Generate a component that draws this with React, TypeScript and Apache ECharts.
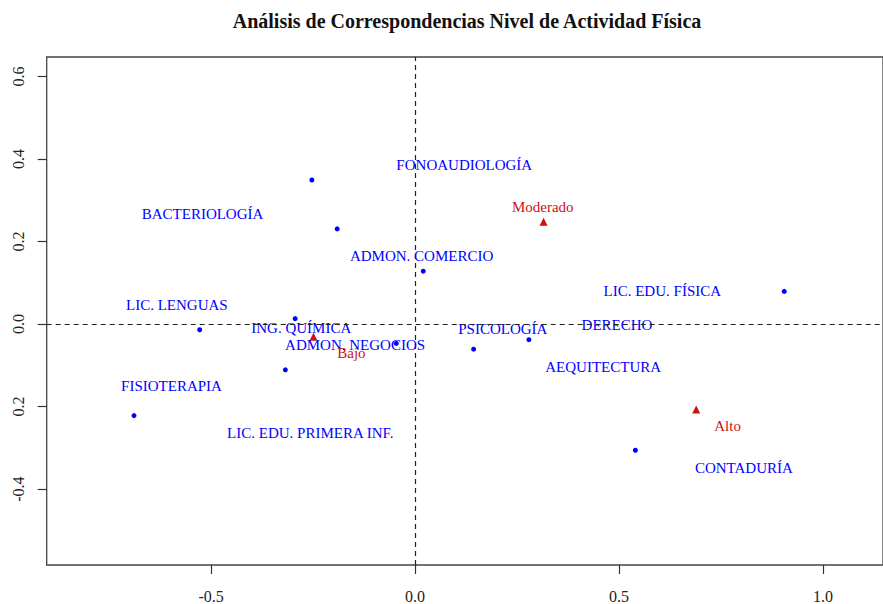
import React, { useEffect, useRef } from "react";
import * as echarts from "echarts";

const TITLE = "Análisis de Correspondencias Nivel de Actividad Física";

// Row points (programs) – dim 1, dim 2
const rowX = [-0.253, -0.191, 0.020, 0.905, -0.528, -0.294, -0.046, 0.1435, 0.279, -0.318, -0.689, 0.540];
const rowY = [0.349, 0.2305, 0.128, 0.079, -0.014, 0.013, -0.047, -0.061, -0.038, -0.111, -0.222, -0.306];

// Row labels and where they were drawn (data units)
const rowNames = [
  "FONOAUDIOLOGÍA", "BACTERIOLOGÍA", "ADMON. COMERCIO", "LIC. EDU. FÍSICA", "LIC. LENGUAS",
  "ING. QUÍMICA", "ADMON. NEGOCIOS", "PSICOLOGÍA", "DERECHO", "AEQUITECTURA",
  "FISIOTERAPIA", "LIC. EDU. PRIMERA INF.", "CONTADURÍA",
];
const rowLabelX = [0.1206, -0.521, 0.016, 0.606, -0.584, -0.279, -0.147, 0.215, 0.495, 0.461, -0.597, -0.257, 0.806];
const rowLabelY = [0.385, 0.267, 0.164, 0.079, 0.045, -0.010, -0.051, -0.013, -0.003, -0.105, -0.150, -0.263, -0.348];

// Column points (activity level)
const colNames = ["Moderado", "Bajo", "Alto"];
const colX = [0.315, -0.249, 0.689];
const colY = [0.248, -0.031, -0.207];
const colLabelX = [0.313, -0.156, 0.766];
const colLabelY = [0.283, -0.071, -0.247];

const xTicks = [-0.5, 0, 0.5, 1.0];
const yTicks = [-0.4, -0.2, 0, 0.2, 0.4, 0.6];
const yTickText = ["-0.4", "0.2", "0.0", "0.2", "0.4", "0.6"];

const FONT = "'Liberation Serif', 'DejaVu Serif', serif";
const BLUE = "#0000FF";
const RED = "#CC1111";

export default function App() {
  const ref = useRef<HTMLDivElement>(null);
  useEffect(() => {
    if (!ref.current) return;
    const chart = echarts.init(ref.current, null, { renderer: "svg" });
    chart.setOption({
      animation: false,
      backgroundColor: "#ffffff",
      textStyle: { fontFamily: FONT },
      title: {
        text: TITLE,
        left: 462,
        top: 6,
        textAlign: "center",
        textStyle: { fontFamily: FONT, fontWeight: "bold", fontSize: 20, color: "#111" },
      },
      grid: { left: 46.7, top: 57, bottom: 36.5, right: -2, show: true, borderColor: "#444", borderWidth: 1.3, backgroundColor: "transparent" },
      xAxis: {
        type: "value",
        min: -0.903,
        max: 1.147,
        splitLine: { show: false },
        axisLine: { show: false, onZero: false },
        axisTick: { show: true, inside: false, length: 9, lineStyle: { color: "#333", width: 1.2 }, customValues: xTicks },
        axisLabel: {
          fontFamily: FONT, fontSize: 16, color: "#222", margin: 23,
          customValues: xTicks,
          formatter: (v: number) => v.toFixed(1),
        },
      },
      yAxis: {
        type: "value",
        min: -0.584,
        max: 0.647,
        splitLine: { show: false },
        axisLine: { show: false, onZero: false },
        axisTick: { show: true, inside: false, length: 9, lineStyle: { color: "#333", width: 1.2 }, customValues: yTicks },
        axisLabel: {
          fontFamily: FONT, fontSize: 16, color: "#222", margin: 20, rotate: 90,
          customValues: yTicks,
          formatter: (v: number) => {
            const i = yTicks.findIndex((t) => Math.abs(t - v) < 1e-6);
            return i >= 0 ? yTickText[i] : "";
          },
        },
      },
      series: [
        {
          type: "scatter",
          name: "rows",
          data: rowX.map((x, i) => [x, rowY[i]]),
          symbol: "circle",
          symbolSize: 5,
          itemStyle: { color: BLUE, opacity: 1 },
          z: 3,
          markLine: {
            silent: true,
            symbol: "none",
            label: { show: false },
            lineStyle: { color: "#222", type: [5, 4], width: 1.2, opacity: 1 },
            data: [{ xAxis: 0 }, { yAxis: 0 }],
          },
        },
        {
          type: "scatter",
          name: "cols",
          data: colX.map((x, i) => [x, colY[i]]),
          symbol: "triangle",
          symbolSize: 8,
          itemStyle: { color: RED, opacity: 1 },
          z: 3,
        },
        {
          type: "scatter",
          name: "rowLabels",
          data: rowNames.map((n, i) => ({ name: n, value: [rowLabelX[i], rowLabelY[i]] })),
          symbolSize: 0,
          itemStyle: { opacity: 1 },
          label: {
            show: true, position: "inside", formatter: "{b}",
            fontFamily: FONT, fontSize: 15, color: BLUE, opacity: 1,
          },
          z: 4,
        },
        {
          type: "scatter",
          name: "colLabels",
          data: colNames.map((n, i) => ({ name: n, value: [colLabelX[i], colLabelY[i]] })),
          symbolSize: 0,
          itemStyle: { opacity: 1 },
          label: {
            show: true, position: "inside", formatter: "{b}",
            fontFamily: FONT, fontSize: 15, color: RED, opacity: 1,
          },
          z: 4,
        },
      ],
    });
    return () => chart.dispose();
  }, []);
  return (
    <div
      ref={ref}
      style={{ position: "absolute", left: 0, top: 0, width: 883, height: 604, background: "#fff" }}
    />
  );
}
